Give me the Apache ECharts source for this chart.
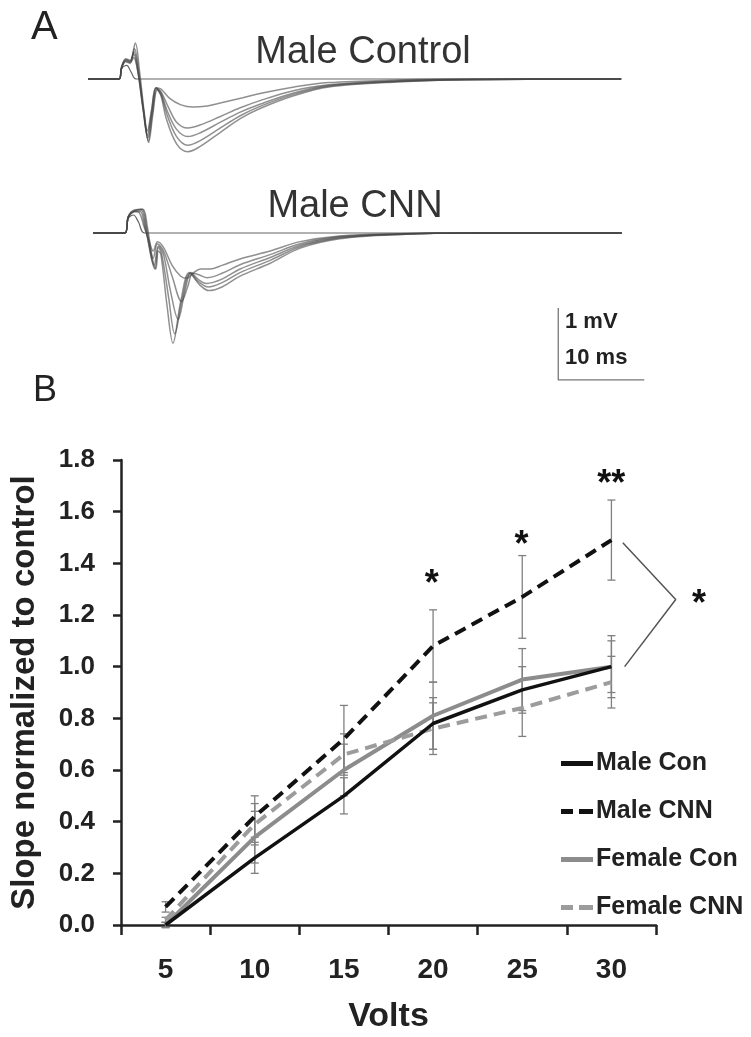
<!DOCTYPE html>
<html><head><meta charset="utf-8">
<script src="https://cdn.jsdelivr.net/npm/echarts@6/dist/echarts.min.js"></script>
<style>html,body{margin:0;padding:0;background:#fff}#c{width:751px;height:1037px}</style>
</head><body><div id="c"></div>
<script>
// ---------- Panel B data ----------
const volts = ['5', '10', '15', '20', '25', '30'];
const maleCon     = [0.00, 0.26, 0.50, 0.78, 0.91, 1.00];
const maleCNN     = [0.07, 0.42, 0.72, 1.08, 1.27, 1.49];
const femaleCon   = [0.00, 0.34, 0.60, 0.81, 0.95, 1.00];
const femaleCNN   = [0.02, 0.39, 0.66, 0.76, 0.84, 0.94];
const maleConErr   = [0.01, 0.06, 0.07, 0.10, 0.09, 0.10];
const maleCNNErr   = [0.02, 0.08, 0.13, 0.14, 0.16, 0.155];
const femaleConErr = [0.01, 0.10, 0.10, 0.13, 0.12, 0.12];
const femaleCNNErr = [0.01, 0.08, 0.08, 0.10, 0.11, 0.10];
// annotations in data units (x = category index)
const starMarks = [
  { value: [3, 1.345], name: '*' },
  { value: [4, 1.496], name: '*' },
  { value: [5, 1.734], name: '**' },
  { value: [5.98, 1.27], name: '*' }
];
const bracketPts = [[5.13, 1.48], [5.72, 1.26], [5.15, 1.0]];

// ---------- Panel A traces: [time ms, mV] ----------
const mcFlat = [[0,0],[3.6,0],[3.9,0.14],[4.5,0.19],[5.0,0.1],[5.6,0],[62,0]];
const mc1 = [[0,0],[3.6,0],[3.9,0.15],[4.4,0.24],[4.9,0.22],[5.3,0.3],[5.8,0.1],[6.4,-0.4],[6.9,-0.72],[7.4,-0.42],[7.9,-0.12],[8.5,-0.14],[9.5,-0.27],[10.8,-0.36],[12.2,-0.39],[13.6,-0.38],[15.5,-0.33],[18,-0.26],[20,-0.2],[24,-0.11],[28,-0.05],[36,-0.015],[44,0],[62,0]];
const mc2 = [[0,0],[3.6,0],[3.9,0.15],[4.4,0.25],[4.9,0.23],[5.3,0.35],[5.8,0.1],[6.4,-0.42],[6.9,-0.78],[7.4,-0.45],[7.9,-0.12],[8.5,-0.18],[9.3,-0.38],[10.3,-0.6],[11.6,-0.68],[13,-0.64],[15.4,-0.52],[17.7,-0.4],[20,-0.3],[24,-0.16],[28,-0.08],[36,-0.025],[44,-0.005],[62,0]];
const mc3 = [[0,0],[3.6,0],[3.9,0.16],[4.4,0.26],[4.9,0.24],[5.35,0.38],[5.85,0.1],[6.45,-0.44],[6.95,-0.82],[7.45,-0.46],[7.95,-0.13],[8.5,-0.2],[9.2,-0.44],[10.3,-0.7],[11.6,-0.8],[13,-0.75],[15.4,-0.6],[17.7,-0.46],[20,-0.35],[24,-0.19],[28,-0.09],[36,-0.03],[44,-0.01],[62,0]];
const mc4 = [[0,0],[3.6,0],[3.9,0.16],[4.4,0.27],[4.9,0.25],[5.4,0.42],[5.9,0.1],[6.5,-0.46],[7.0,-0.86],[7.5,-0.47],[8.0,-0.14],[8.5,-0.22],[9.2,-0.5],[10.3,-0.8],[11.6,-0.92],[13,-0.86],[15.4,-0.68],[17.7,-0.51],[20,-0.38],[24,-0.21],[28,-0.1],[36,-0.035],[44,-0.01],[62,0]];
const mc5 = [[0,0],[3.6,0],[3.9,0.17],[4.4,0.28],[4.9,0.26],[5.5,0.5],[6.0,0.1],[6.55,-0.48],[7.05,-0.88],[7.55,-0.48],[8.05,-0.15],[8.5,-0.24],[9.1,-0.55],[10.3,-0.9],[11.6,-1.01],[13,-0.94],[15.4,-0.74],[17.7,-0.55],[20,-0.41],[24,-0.23],[28,-0.11],[36,-0.04],[44,-0.01],[62,0]];

const cnFlat = [[0,0],[3.7,0],[4.1,0.2],[4.7,0.25],[5.3,0.15],[6.0,0],[61.5,0]];
const cn1 = [[0,0],[3.7,0],[4.1,0.22],[4.8,0.3],[5.4,0.28],[5.9,0.1],[6.5,-0.1],[7.0,-0.25],[7.5,-0.12],[8.2,-0.2],[9.2,-0.45],[10.2,-0.6],[10.9,-0.63],[11.6,-0.56],[12.5,-0.5],[13.6,-0.5],[15,-0.45],[17.1,-0.36],[20.6,-0.25],[24.1,-0.12],[28.7,-0.04],[35.7,-0.01],[44,0],[61.5,0]];
const cn2 = [[0,0],[3.7,0],[4.1,0.22],[4.8,0.3],[5.5,0.3],[6.0,0.1],[6.6,-0.2],[7.0,-0.35],[7.5,-0.15],[8.2,-0.25],[9.2,-0.6],[10.3,-0.95],[11.0,-0.75],[11.6,-0.56],[12.3,-0.58],[13.3,-0.62],[15,-0.56],[17.1,-0.44],[20.6,-0.3],[24.1,-0.15],[28.7,-0.05],[35.7,-0.012],[44,0],[61.5,0]];
const cn3 = [[0,0],[3.7,0],[4.1,0.22],[4.8,0.3],[5.6,0.32],[6.1,0.1],[6.7,-0.3],[7.1,-0.45],[7.6,-0.18],[8.2,-0.3],[9.0,-0.8],[9.9,-1.2],[10.7,-0.8],[11.4,-0.55],[12.2,-0.64],[13.2,-0.7],[15,-0.64],[17.1,-0.5],[20.6,-0.34],[24.1,-0.17],[28.7,-0.06],[35.7,-0.015],[44,0],[61.5,0]];
const cn4 = [[0,0],[3.7,0],[4.1,0.22],[4.8,0.31],[5.7,0.33],[6.2,0.1],[6.8,-0.35],[7.2,-0.5],[7.6,-0.2],[8.0,-0.3],[8.8,-0.9],[9.5,-1.4],[10.4,-0.9],[11.3,-0.56],[12.3,-0.68],[13.4,-0.75],[15,-0.69],[17.1,-0.55],[20.6,-0.38],[24.1,-0.19],[28.7,-0.07],[35.7,-0.02],[44,0],[61.5,0]];
const cn5 = [[0,0],[3.7,0],[4.1,0.23],[4.8,0.32],[5.8,0.33],[6.3,0.1],[6.9,-0.35],[7.3,-0.5],[7.6,-0.25],[7.9,-0.3],[8.6,-1.0],[9.3,-1.53],[10.2,-0.95],[11.2,-0.55],[12.4,-0.72],[13.5,-0.8],[15,-0.75],[17.1,-0.6],[20.6,-0.42],[24.1,-0.21],[28.7,-0.08],[35.7,-0.02],[44,0],[61.5,0]];
const scaleBar = [[54.1,-1.04],[54.1,-2.04],[64.1,-2.04]];

// ---------- layout (pixels) ----------
const FONT = '"Liberation Sans", Arial, sans-serif';
const PX_MS = 8.6, PX_MV = 72;
const mcX = [0, 62], mcY = [-1.2, 0.6];
const cnX = [0, 66], cnY = [-2.2, 0.5];
const B_LEFT = 118, B_TOP = 460, B_W = 538, B_H = 465;
const ICON_SOLID = 'path://M0 0H32V5H0Z';
const ICON_DASH = 'path://M0 0H12V5H0Z M18 0H32V5H18Z';

const chart = echarts.init(document.getElementById('c'), null, { renderer: 'canvas' });

function traceSeries(data, ax, flat) {
  return {
    type: 'line', xAxisIndex: ax, yAxisIndex: ax, data: data,
    smooth: 0.35, symbol: 'none', silent: true, z: 2,
    lineStyle: { color: flat ? 'rgba(60,60,60,0.8)' : 'rgba(70,70,70,0.6)', width: flat ? 1.2 : 1.5 }
  };
}
function errSeries(vals, errs) {
  return {
    type: 'custom', xAxisIndex: 2, yAxisIndex: 2, silent: true, z: 1,
    data: vals.map((v, i) => [i, v - errs[i], v + errs[i]]),
    renderItem: (params, api) => {
      const i = api.value(0);
      const lo = api.coord([i, api.value(1)]);
      const hi = api.coord([i, api.value(2)]);
      const w = 4, st = { stroke: '#808080', lineWidth: 1.3 };
      return { type: 'group', children: [
        { type: 'line', shape: { x1: lo[0], y1: lo[1], x2: hi[0], y2: hi[1] }, style: st },
        { type: 'line', shape: { x1: lo[0] - w, y1: lo[1], x2: lo[0] + w, y2: lo[1] }, style: st },
        { type: 'line', shape: { x1: hi[0] - w, y1: hi[1], x2: hi[0] + w, y2: hi[1] }, style: st }
      ]};
    }
  };
}
function mainSeries(name, data, color, dashed, width) {
  return {
    name: name, type: 'line', xAxisIndex: 2, yAxisIndex: 2, data: data,
    symbol: 'none', z: 3,
    lineStyle: { color: color, width: width, type: dashed ? [12, 7] : 'solid' },
    itemStyle: { color: color }
  };
}
function starSeries(marks) {
  return {
    type: 'custom', xAxisIndex: 3, yAxisIndex: 3, silent: true, z: 4,
    data: marks.map(m => ({ value: m.value, name: m.name })),
    renderItem: (params, api) => {
      const p = api.coord([api.value(0), api.value(1)]);
      return { type: 'text', x: p[0], y: p[1] + 8,
        style: { text: marks[params.dataIndex].name, font: 'bold 36px ' + FONT, fill: '#111',
                 align: 'center', verticalAlign: 'middle' } };
    }
  };
}

const hiddenAx = (grid, range) => ({ type: 'value', gridIndex: grid, min: range[0], max: range[1], show: false });

const option = {
  animation: false,
  backgroundColor: '#fff',
  grid: [
    { left: 88, top: 79 - mcY[1] * PX_MV, width: (mcX[1] - mcX[0]) * PX_MS, height: (mcY[1] - mcY[0]) * PX_MV },
    { left: 93, top: 233 - cnY[1] * PX_MV, width: (cnX[1] - cnX[0]) * PX_MS, height: (cnY[1] - cnY[0]) * PX_MV },
    { left: B_LEFT, top: B_TOP, width: B_W, height: B_H },
    // annotation grid: same scale as panel B, one category wider on the right
    { left: B_LEFT, top: B_TOP, width: B_W * 7 / 6, height: B_H }
  ],
  xAxis: [
    hiddenAx(0, mcX), hiddenAx(1, cnX),
    {
      type: 'category', gridIndex: 2, data: volts, boundaryGap: true,
      axisLine: { lineStyle: { color: '#222', width: 2.5 } },
      axisTick: { show: true, length: 10, lineStyle: { color: '#222', width: 2.5 } },
      axisLabel: { margin: 31, fontSize: 28, fontWeight: 'bold', fontFamily: FONT, color: '#222' },
      name: 'Volts', nameLocation: 'middle', nameGap: 75,
      nameTextStyle: { fontSize: 34, fontWeight: 'bold', fontFamily: FONT, color: '#222' }
    },
    hiddenAx(3, [-0.5, 6.5])
  ],
  yAxis: [
    hiddenAx(0, mcY), hiddenAx(1, cnY),
    {
      type: 'value', gridIndex: 2, min: 0, max: 1.8, interval: 0.2,
      axisLine: { show: true, lineStyle: { color: '#222', width: 2.5 } },
      axisTick: { show: true, length: 8, lineStyle: { color: '#222', width: 2.5 } },
      splitLine: { show: false },
      axisLabel: { margin: 26, fontSize: 26, fontWeight: 'bold', fontFamily: FONT, color: '#222', formatter: v => v.toFixed(1) },
      name: 'Slope normalized to control', nameLocation: 'middle', nameGap: 80, nameRotate: 90,
      nameTextStyle: { fontSize: 33, fontWeight: 'bold', fontFamily: FONT, color: '#222' }
    },
    hiddenAx(3, [0, 1.8])
  ],
  legend: {
    data: [
      { name: 'Male Con', icon: ICON_SOLID },
      { name: 'Male CNN', icon: ICON_DASH },
      { name: 'Female Con', icon: ICON_SOLID },
      { name: 'Female CNN', icon: ICON_DASH }
    ],
    orient: 'vertical', left: 556, top: 746, itemWidth: 32, itemHeight: 5, itemGap: 23,
    textStyle: { fontSize: 25, fontWeight: 'bold', fontFamily: FONT, color: '#222', padding: [0, 0, 0, -2] }
  },
  graphic: [
    { type: 'text', left: 31, top: 8, style: { text: 'A', font: '40px ' + FONT, fill: '#222' } },
    { type: 'text', x: 363, y: 53, style: { text: 'Male Control', font: '38px ' + FONT, fill: '#333', align: 'center', verticalAlign: 'middle' } },
    { type: 'text', x: 355, y: 207, style: { text: 'Male CNN', font: '38px ' + FONT, fill: '#333', align: 'center', verticalAlign: 'middle' } },
    { type: 'text', x: 565, y: 322, style: { text: '1 mV', font: 'bold 22px ' + FONT, fill: '#222', verticalAlign: 'middle' } },
    { type: 'text', x: 565, y: 358, style: { text: '10 ms', font: 'bold 22px ' + FONT, fill: '#222', verticalAlign: 'middle' } },
    { type: 'text', left: 33, top: 373, style: { text: 'B', font: '36px ' + FONT, fill: '#222' } }
  ],
  series: [
    traceSeries(mcFlat, 0, true), traceSeries(mc1, 0), traceSeries(mc2, 0), traceSeries(mc3, 0), traceSeries(mc4, 0), traceSeries(mc5, 0),
    traceSeries(cnFlat, 1, true), traceSeries(cn1, 1), traceSeries(cn2, 1), traceSeries(cn3, 1), traceSeries(cn4, 1), traceSeries(cn5, 1),
    { type: 'line', xAxisIndex: 1, yAxisIndex: 1, data: scaleBar, symbol: 'none', silent: true, lineStyle: { color: '#777', width: 1.3 } },
    errSeries(femaleCon, femaleConErr), errSeries(femaleCNN, femaleCNNErr),
    errSeries(maleCon, maleConErr), errSeries(maleCNN, maleCNNErr),
    mainSeries('Female Con', femaleCon, '#8c8c8c', false, 4),
    mainSeries('Female CNN', femaleCNN, '#9c9c9c', true, 4),
    mainSeries('Male Con', maleCon, '#111', false, 3.5),
    mainSeries('Male CNN', maleCNN, '#111', true, 4),
    { type: 'line', xAxisIndex: 3, yAxisIndex: 3, data: bracketPts, symbol: 'none', silent: true, z: 3,
      lineStyle: { color: '#555', width: 1.5 } },
    starSeries(starMarks)
  ]
};
chart.setOption(option);
</script>
</body></html>
